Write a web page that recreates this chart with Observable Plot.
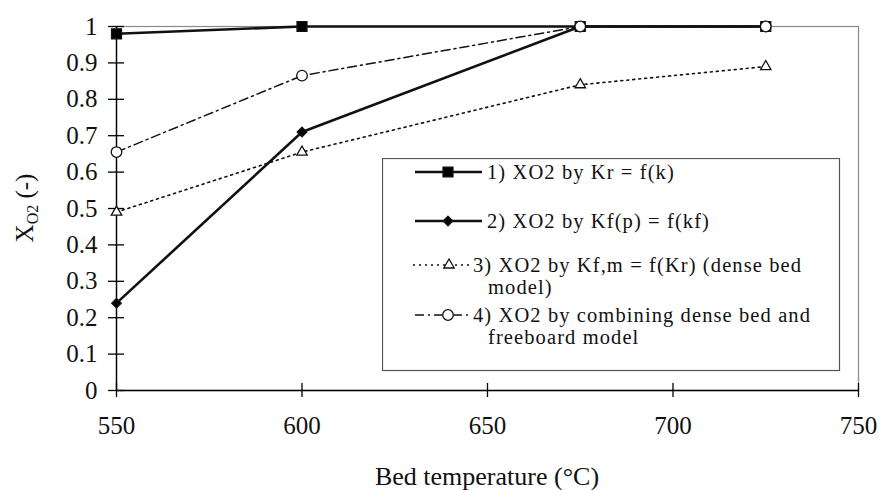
<!DOCTYPE html>
<html><head><meta charset="utf-8">
<script src="https://cdn.jsdelivr.net/npm/d3@7"></script>
<script src="https://cdn.jsdelivr.net/npm/@observablehq/plot@0.6"></script>
<style>
html,body{margin:0;padding:0;background:#fff;}
#chart{position:relative;width:879px;height:490px;font-family:'Liberation Serif',serif;}
#chart svg text{font-family:'Liberation Serif',serif;}
#legend{position:absolute;left:382px;top:158px;}
</style></head><body><div id="chart"></div>
<script>
// ---- data ----
const temps = [550, 600, 675, 725];
const s1 = [0.98, 1.0, 1.0, 1.0];
const s2 = [0.24, 0.71, 1.0, 1.0];
const s3 = [0.49, 0.655, 0.84, 0.89];
const s4 = [0.655, 0.865, 1.0, 1.0];
const seriesNames = ["1) XO2 by Kr = f(k)", "2) XO2 by Kf(p) = f(kf)", "3) XO2 by Kf,m = f(Kr) (dense bed model)", "4) XO2 by combining dense bed and freeboard model"];
const legendLines = [["1) XO2 by Kr = f(k)"], ["2) XO2 by Kf(p) = f(kf)"], ["3) XO2 by Kf,m = f(Kr) (dense bed", "model)"], ["4) XO2 by combining dense bed and", "freeboard model"]];
const xTicks = [550, 600, 650, 700, 750];
const xTickLabels = ["550", "600", "650", "700", "750"];
const yTicks = [0, 0.1, 0.2, 0.3, 0.4, 0.5, 0.6, 0.7, 0.8, 0.9, 1];
const yTickLabels = ["0", "0.1", "0.2", "0.3", "0.4", "0.5", "0.6", "0.7", "0.8", "0.9", "1"];
const xTitle = "Bed temperature (°C)";
const yTitleMain = "X", yTitleSub = "O2", yTitleRest = " (-)";

// ---- styles ----
const seriesValues = [s1, s2, s3, s4];
const styles = [
  {symbol: "square", d3sym: d3.symbolSquare, r: 5.6, fill: "black", dash: null, sw: 2.6},
  {symbol: "diamond2", d3sym: d3.symbolDiamond2, r: 4.3, fill: "black", dash: null, sw: 2.6},
  {symbol: "triangle2", d3sym: d3.symbolTriangle2, r: 5.0, fill: "white", dash: "2,4", sw: 1.6},
  {symbol: "circle", d3sym: d3.symbolCircle, r: 5.3, fill: "white", dash: "9,4,2,4", sw: 1.5}
];
const table = [];
seriesValues.forEach((vals, si) => temps.forEach((t, i) => table.push({series: seriesNames[si], si, t, v: vals[i]})));

const FONT = "Liberation Serif";
const marks = [
  Plot.frame({stroke: "#8a8a8a", strokeWidth: 1.2}),
  Plot.ruleX([xTicks[0]], {stroke: "black", strokeWidth: 1.4}),
  Plot.ruleY([yTicks[0]], {stroke: "black", strokeWidth: 1.4}),
  Plot.ruleY(yTicks, {y: d => d, x1: () => xTicks[0], x2: () => xTicks[0], insetLeft: -8, insetRight: -8, stroke: "black", strokeWidth: 1.3}),
  Plot.ruleX(xTicks, {x: d => d, y1: () => yTicks[0], y2: () => yTicks[0], insetTop: -7, insetBottom: -7, stroke: "black", strokeWidth: 1.3}),
  Plot.axisY({ticks: yTicks, tickSize: 0, tickPadding: 19, tickFormat: d => yTickLabels[yTicks.indexOf(d)], fontSize: 25, fontFamily: FONT, label: null, fill: "#111"}),
  Plot.axisX({ticks: xTicks, tickSize: 0, tickPadding: 26, tickFormat: d => xTickLabels[xTicks.indexOf(d)], fontSize: 25, fontFamily: FONT, label: null, fill: "#111"})
];
styles.forEach((st, si) => {
  const d = table.filter(r => r.si === si);
  marks.push(Plot.line(d, {x: "t", y: "v", stroke: "#111", strokeWidth: st.sw, strokeDasharray: st.dash}));
  marks.push(Plot.dot(d, {x: "t", y: "v", symbol: () => st.symbol, r: st.r, fill: st.fill, stroke: "#111", strokeWidth: 1.3}));
});

const plot = Plot.plot({
  width: 879, height: 490,
  marginLeft: 116, marginRight: 21, marginTop: 26, marginBottom: 100,
  x: {domain: [xTicks[0], xTicks[xTicks.length - 1]]},
  y: {domain: [yTicks[0], yTicks[yTicks.length - 1]]},
  symbol: {type: "identity"},
  style: "font-family: 'Liberation Serif', serif; background: white; color: #111; overflow: visible;",
  marks
});
document.getElementById("chart").appendChild(plot);

// axis titles
const svg = d3.select(plot);
svg.append("text").attr("x", 487).attr("y", 485).attr("text-anchor", "middle")
  .style("font-family", FONT).attr("font-size", 26).attr("fill", "#111").text(xTitle);
const yt = svg.append("text").attr("transform", "translate(33,208) rotate(-90)").attr("text-anchor", "middle")
  .style("font-family", FONT).attr("font-size", 25).attr("fill", "#111");
yt.append("tspan").text(yTitleMain);
yt.append("tspan").attr("font-size", 16).attr("dy", 5).text(yTitleSub);
yt.append("tspan").attr("dy", -5).text(yTitleRest);

// legend
const lg = d3.select("#chart").append("svg").attr("id", "legend").attr("width", 459).attr("height", 214);
lg.append("rect").attr("x", 0.5).attr("y", 0.5).attr("width", 457).attr("height", 212).attr("fill", "white").attr("stroke", "#555").attr("stroke-width", 1.2);
const rows = [
  {cy: 14, x1: 33, x2: 100, mx: 66, tx: 105, tx2: 105},
  {cy: 63, x1: 33, x2: 100, mx: 66, tx: 105, tx2: 105},
  {cy: 107, x1: 31, x2: 89, mx: 67, tx: 91, tx2: 106},
  {cy: 157, x1: 33, x2: 89, mx: 66, tx: 91, tx2: 106}
];
styles.forEach((st, si) => {
  const rw = rows[si];
  lg.append("line").attr("x1", rw.x1).attr("x2", rw.x2).attr("y1", rw.cy).attr("y2", rw.cy)
    .attr("stroke", "#111").attr("stroke-width", st.sw).attr("stroke-dasharray", st.dash);
  lg.append("path").attr("d", d3.symbol(st.d3sym, st.r * st.r * Math.PI)()).attr("transform", `translate(${rw.mx},${rw.cy})`)
    .attr("fill", st.fill).attr("stroke", "#111").attr("stroke-width", 1.3);
  legendLines[si].forEach((ln, li) => {
    lg.append("text").attr("x", li === 0 ? rw.tx : rw.tx2).attr("y", rw.cy + li * 21.5).attr("dy", "0.35em")
      .style("font-family", FONT).style("letter-spacing", "1.1px").attr("font-size", 20.5).attr("fill", "#111").text(ln);
  });
});
</script></body></html>
